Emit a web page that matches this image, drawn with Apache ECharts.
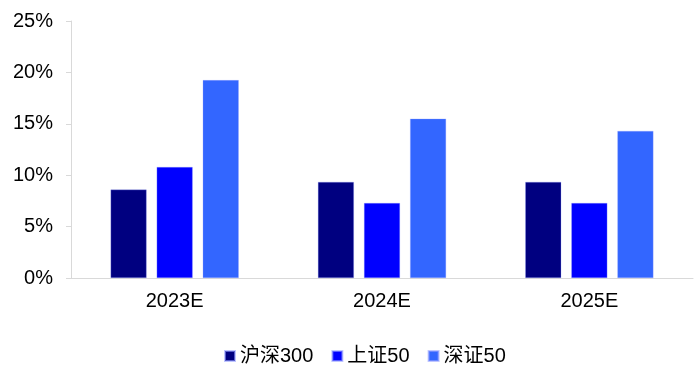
<!DOCTYPE html>
<html><head><meta charset="utf-8">
<script src="https://cdn.jsdelivr.net/npm/echarts@6/dist/echarts.min.js"></script>
<style>html,body{margin:0;padding:0;background:#fff}#c{width:699px;height:372px}</style>
</head><body><div id="c"></div>
<script>
const categories = ['2023E', '2024E', '2025E'];
const hs300 = [8.6, 9.35, 9.35];
const sz50 = [10.8, 7.3, 7.3];
const szzz50 = [19.25, 15.5, 14.3];
const seriesNames = ['沪深300', '上证50', '深证50'];
const colors = ['#000080', '#0000FF', '#3366FF'];

const chart = echarts.init(document.getElementById('c'));
const font = '"Liberation Sans", Arial, "Noto Sans CJK SC", sans-serif';
const mk = (name, data, color) => ({
  name, type: 'bar', data, barWidth: 36, barGap: '28%',
  itemStyle: { color, borderColor: 'rgba(150,160,255,0.6)', borderWidth: 0.5 }
});
chart.setOption({
  animation: false,
  textStyle: { fontFamily: font },
  grid: { left: 71, right: 6, top: 21, bottom: 94, containLabel: false },
  legend: {
    top: 341, left: 219, itemWidth: 10, itemHeight: 10, itemGap: 18,
    icon: 'rect',
    textStyle: { fontSize: 20, color: '#000', fontFamily: font, padding: [0, 0, 0, 0] },
    data: seriesNames
  },
  xAxis: {
    type: 'category', data: categories,
    axisLine: { lineStyle: { color: '#d9d9d9', width: 1 } },
    axisTick: { show: false },
    axisLabel: { color: '#000', fontSize: 20, margin: 13, fontFamily: font }
  },
  yAxis: {
    type: 'value', min: 0, max: 25, interval: 5,
    axisLine: { show: true, lineStyle: { color: '#d9d9d9' } },
    axisTick: { show: true, inside: false, length: 5, lineStyle: { color: '#d9d9d9' } },
    splitLine: { show: false },
    axisLabel: { color: '#000', fontSize: 20, margin: 18, formatter: v => v + '%', fontFamily: font }
  },
  series: [mk(seriesNames[0], hs300, colors[0]), mk(seriesNames[1], sz50, colors[1]), mk(seriesNames[2], szzz50, colors[2])]
});
</script></body></html>
